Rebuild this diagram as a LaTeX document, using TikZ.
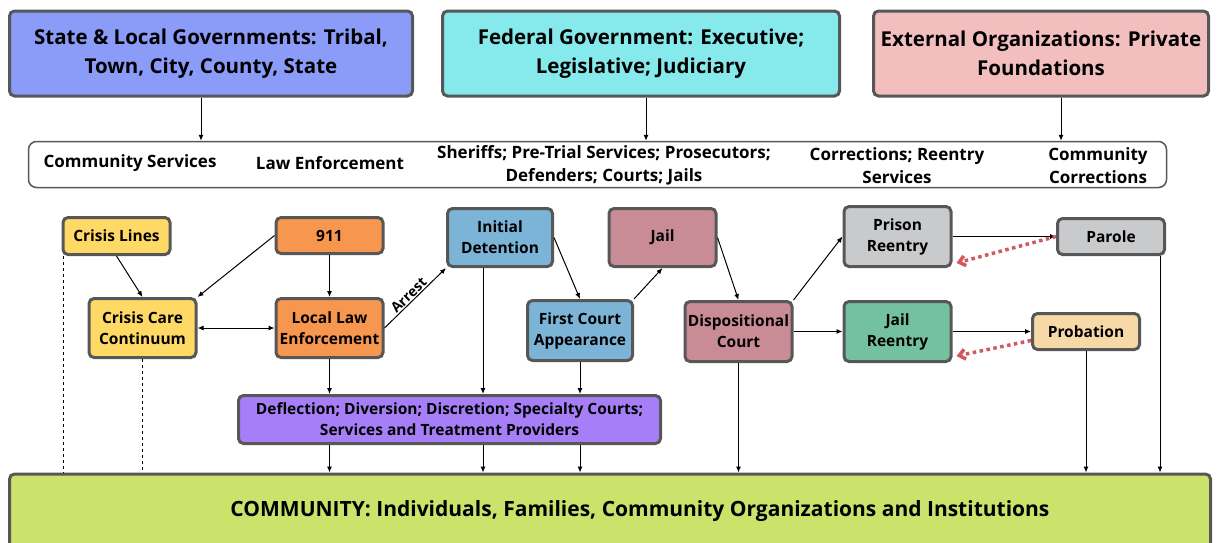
\documentclass[tikz,border=0pt]{standalone}
\usepackage{fontspec}
\setmainfont{Open Sans}
\usetikzlibrary{calc,arrows.meta}
\definecolor{edgegray}{HTML}{575757}
\definecolor{stateblue}{HTML}{8A9CF8}
\definecolor{fedcyan}{HTML}{86E9EC}
\definecolor{extpink}{HTML}{F2BEBE}
\definecolor{crisisyellow}{HTML}{FFD966}
\definecolor{policeorange}{HTML}{F7964F}
\definecolor{courtblue}{HTML}{7BB4D6}
\definecolor{jailmauve}{HTML}{C98B95}
\definecolor{reentrygray}{HTML}{C9CACC}
\definecolor{reentrygreen}{HTML}{73C19E}
\definecolor{probwheat}{HTML}{F7D9A7}
\definecolor{deflpurple}{HTML}{A67FF8}
\definecolor{commlime}{HTML}{CBE36B}
\definecolor{backred}{HTML}{D1585C}
\tikzstyle{stagebox}=[draw=edgegray, line width=3pt, rounded corners=5pt, align=center, minimum width=107pt, inner sep=2pt, font=\bfseries\fontsize{15.5}{21}\selectfont]
\tikzstyle{govbox}=[stagebox, minimum height=85pt, font=\bfseries\fontsize{20.5}{29}\selectfont]
\tikzstyle{bandtext}=[align=center, font=\bfseries\fontsize{17}{23}\selectfont]
\tikzstyle{arr}=[-{Latex[length=6pt,width=5pt]}, line width=1pt]
\tikzstyle{backarr}=[-{Straight Barb[length=6pt,width=10pt]}, draw=backred, line width=3.5pt, dash pattern=on 3.5pt off 3.5pt]

\begin{document}
\begin{tikzpicture}[x=1pt,y=-1pt]
    \useasboundingbox (0,0) rectangle (1217,542);
    \node[govbox, fill=stateblue, minimum width=403pt] (state) at (211,53.5) {State \& Local Governments: Tribal,\\Town, City, County, State};
    \node[govbox, fill=fedcyan, minimum width=397pt] (fed) at (641,53.5) {Federal Government: Executive;\\Legislative; Judiciary};
    \node[govbox, fill=extpink, minimum width=335pt] (ext) at (1041,53.5) {External Organizations: Private\\Foundations};
    \node[draw=edgegray, line width=1.5pt, rounded corners=8pt, minimum width=1138pt, minimum height=46pt] (band) at (597.5,164.5) {};
    \node[bandtext] (bcs) at (130,163) {Community Services};
    \node[bandtext] (ble) at (330,163) {Law Enforcement};
    \node[bandtext] (bsh) at (604,165) {Sheriffs; Pre-Trial Services; Prosecutors;\\Defenders; Courts; Jails};
    \node[bandtext] (bcr) at (897,166) {Corrections; Reentry\\Services};
    \node[bandtext] (bcc) at (1098,166) {Community\\Corrections};
    \node[stagebox, fill=crisisyellow, minimum height=37pt] (cl) at (116.5,236) {Crisis Lines};
    \node[stagebox, fill=policeorange, minimum height=36pt] (n911) at (329.5,235.5) {911};
    \node[stagebox, fill=crisisyellow, minimum height=59pt] (ccc) at (142.5,328) {Crisis Care\\Continuum};
    \node[stagebox, fill=policeorange, minimum height=59pt] (lle) at (329.5,328) {Local Law\\Enforcement};
    \node[stagebox, fill=courtblue, minimum height=58pt, minimum width=105pt] (idt) at (500,237.5) {Initial\\Detention};
    \node[stagebox, fill=courtblue, minimum height=60pt, minimum width=105pt] (fca) at (580,330.5) {First Court\\Appearance};
    \node[stagebox, fill=jailmauve, minimum height=58pt] (jail) at (662.5,237.5) {Jail};
    \node[stagebox, fill=jailmauve, minimum height=60pt] (dc) at (738.5,331.5) {Dispositional\\Court};
    \node[stagebox, fill=reentrygray, minimum height=60pt] (pr) at (897.5,236.5) {Prison\\Reentry};
    \node[stagebox, fill=reentrygreen, minimum height=60pt] (jr) at (897.5,331.5) {Jail\\Reentry};
    \node[stagebox, fill=reentrygray, minimum height=36pt] (par) at (1111,236.5) {Parole};
    \node[stagebox, fill=probwheat, minimum height=36pt] (prob) at (1086,331.5) {Probation};
    \node[stagebox, fill=deflpurple, minimum height=48pt, minimum width=422pt] (defl) at (449.5,419.5) {Deflection; Diversion; Discretion; Specialty Courts;\\Services and Treatment Providers};
    \node[stagebox, fill=commlime, minimum height=74pt, minimum width=1201pt] (comm) at (610,511) {};
    \node[font=\bfseries\fontsize{21}{24}\selectfont] (commtext) at (640,511) {COMMUNITY: Individuals, Families, Community Organizations and Institutions};
    % government boxes down to the band
    \draw[arr] ([xshift=-10pt]state.south) -- ([xshift=-10pt]state.south |- band.north);
    \draw[arr] ([xshift=5pt]fed.south) -- ([xshift=5pt]fed.south |- band.north);
    \draw[arr] ([xshift=20pt]ext.south) -- ([xshift=20pt]ext.south |- band.north);
    \foreach \from/\to in
      {cl.south/ccc.north, n911.west/ccc.north east, n911.south/lle.north,
       idt.east/fca.north, fca.north east/jail.south, jail.east/dc.north,
       dc.north east/pr.west, dc.east/jr.west, pr.east/par.west, jr.east/prob.west}
    \draw[arr] (\from) -- (\to);
    \draw[arr, {Latex[length=6pt,width=5pt]}-{Latex[length=6pt,width=5pt]}] (ccc) -- (lle);
    \draw[arr] (lle.east) -- node[sloped, above, pos=0.47, inner sep=1pt, font=\bfseries\fontsize{14}{16}\selectfont] {Arrest} (idt.south west);
    \draw[backarr] (par.west) -- ($(pr.south east)+(4,-5)$);
    \draw[backarr] ($(prob.west)+(0,9)$) -- ($(jr.south east)+(4,-7)$);
    % into and out of the purple box
    \coordinate (idtdown) at ([xshift=-17pt]idt.south);
    \foreach \src in {lle.south, idtdown, fca.south}
    {
    \draw[arr] (\src) -- (\src |- defl.north);
    \draw[arr] (\src |- defl.south) -- (\src |- comm.north);
    }
    \draw[arr] (dc.south) -- (dc.south |- comm.north);
    \draw[arr] (prob.south) -- (prob.south |- comm.north);
    \draw[arr] ([xshift=-6pt]par.south east) -- ([xshift=-6pt]par.south east |- comm.north);
    \draw[dashed] ([xshift=2pt]cl.south west) -- ([xshift=2pt]cl.south west |- comm.north);
    \draw[dashed] (ccc.south) -- (ccc.south |- comm.north);
\end{tikzpicture}
\end{document}
